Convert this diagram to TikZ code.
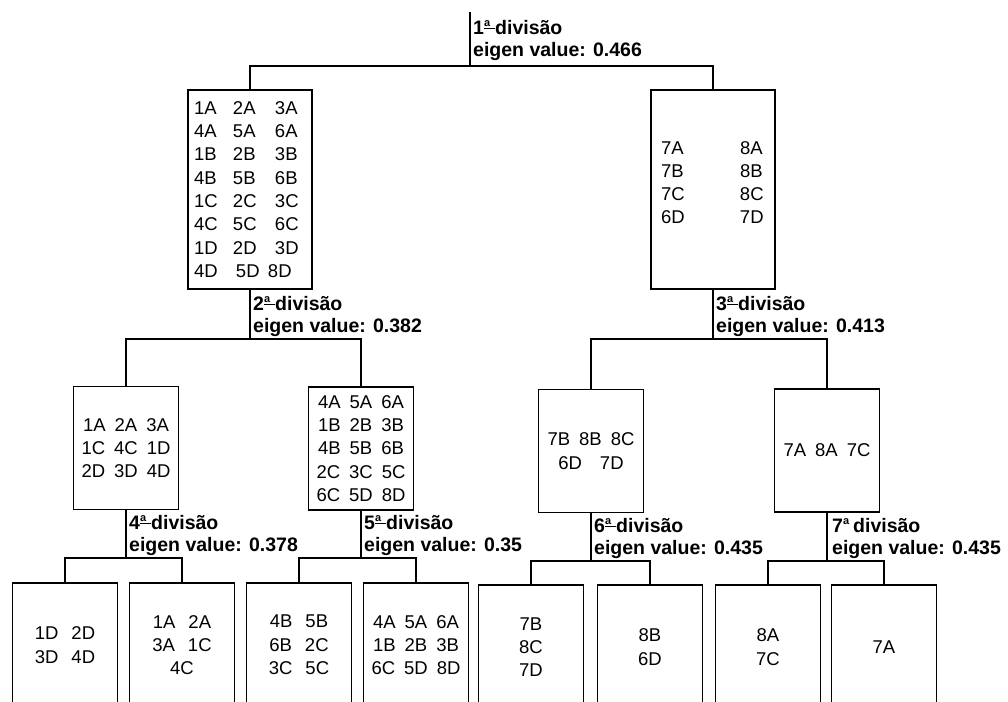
\documentclass[tikz,border=0pt]{standalone}
\usepackage{fontspec}
\setmainfont{Liberation Sans}
\usepackage{tikz}
\usetikzlibrary{positioning}

\newcommand{\ordlbl}[1]{#1\raisebox{0.42em}{\fontsize{11}{11}\selectfont\underline{a\hspace{5pt}}}divisão}
\newcommand{\ordplain}[1]{#1\raisebox{0.42em}{\fontsize{11}{11}\selectfont a}\hspace{4pt}divisão}
\newcommand{\trio}[3]{\makebox[39pt][l]{#1}\makebox[42pt][l]{#2}#3}
\newcommand{\duo}[2]{\makebox[79pt][l]{#1}#2}

\begin{document}
\begin{tikzpicture}[
    x=1pt, y=-1pt,
    grp/.style={draw, line width=1.5pt, inner sep=0pt, align=center,
                font=\fontsize{18.5}{23.3}\selectfont},
    bigbox/.style={grp, minimum width=124pt, minimum height=199pt},
    smallbox/.style={grp, minimum width=105pt, minimum height=123pt},
    leafbox/.style={grp, overlay, minimum width=105pt, minimum height=124pt},
    lbl/.style={font=\fontsize{19.5}{22}\selectfont\bfseries, align=left,
                inner sep=0pt},
    link/.style={line width=1.5pt},
]
\fill[white] (0,0) rectangle (1008,701);
\clip (0,0) rectangle (1008,701);

% first split
\coordinate (root) at (470,12);
\coordinate (j1) at (470,66);
\node[bigbox, align=left, text width=112pt] (t1) at (250,189.5)
    {\trio{1A}{2A}{3A}\\\trio{4A}{5A}{6A}\\\trio{1B}{2B}{3B}\\\trio{4B}{5B}{6B}\\
     \trio{1C}{2C}{3C}\\\trio{4C}{5C}{6C}\\\trio{1D}{2D}{3D}\\
     \makebox[42pt][l]{4D}\makebox[32pt][l]{5D}8D};
\node[bigbox, align=left, text width=104pt] (t2) at (713,189.5)
    {\duo{7A}{8A}\\\duo{7B}{8B}\\\duo{7C}{8C}\\\duo{6D}{7D}\\[-9.3pt]\mbox{}};
\node[lbl, above right=5pt and 3pt of j1] (d1) {\ordlbl{1}\\eigen value: 0.466};

\draw[link] (root) -- (j1);
\draw[link] (t1) |- (j1) -| (t2);

% second level
\coordinate (j2) at (250,339);
\coordinate (j3) at (713,339);
\node[smallbox] (ca) at (126,448)
    {1A\hspace{9pt}2A\hspace{9pt}3A\\1C\hspace{9pt}4C\hspace{9pt}1D\\2D\hspace{9pt}3D\hspace{9pt}4D};
\node[smallbox] (cb) at (361,448.5)
    {4A\hspace{9pt}5A\hspace{9pt}6A\\1B\hspace{9pt}2B\hspace{9pt}3B\\4B\hspace{9pt}5B\hspace{9pt}6B\\
     2C\hspace{9pt}3C\hspace{9pt}5C\\6C\hspace{9pt}5D\hspace{9pt}8D};
\node[smallbox] (cc) at (591,451)
    {7B\hspace{9pt}8B\hspace{9pt}8C\\6D\hspace{18pt}7D};
\node[smallbox] (cd) at (827,450.5) {7A\hspace{9pt}8A\hspace{9pt}7C};
\node[lbl, above right=2pt and 3pt of j2] (d2) {\ordlbl{2}\\eigen value: 0.382};
\node[lbl, above right=2pt and 3pt of j3] (d3) {\ordlbl{3}\\eigen value: 0.413};

\draw[link] (t1) -- (j2);
\draw[link] (t2) -- (j3);
\draw[link] (ca) |- (j2) -| (cb);
\draw[link] (cc) |- (j3) -| (cd);

% third level (cut off by the page edge)
\coordinate (j4) at (126,558);
\coordinate (j5) at (361,558);
\coordinate (j6) at (591,561);
\coordinate (j7) at (827,561);
\node[leafbox] (b1) at (65,645) {1D\hspace{13pt}2D\\3D\hspace{13pt}4D};
\node[leafbox] (b2) at (182,645) {1A\hspace{13pt}2A\\3A\hspace{13pt}1C\\4C};
\node[leafbox] (b3) at (299,645) {4B\hspace{13pt}5B\\6B\hspace{13pt}2C\\3C\hspace{13pt}5C};
\node[leafbox] (b4) at (416,645)
    {4A\hspace{9pt}5A\hspace{9pt}6A\\1B\hspace{9pt}2B\hspace{9pt}3B\\6C\hspace{9pt}5D\hspace{9pt}8D};
\node[leafbox] (b5) at (531,647) {7B\\8C\\7D};
\node[leafbox] (b6) at (650,647) {8B\\6D};
\node[leafbox] (b7) at (768,647) {8A\\7C};
\node[leafbox] (b8) at (884,647) {7A};
\node[lbl, above right=2pt and 3pt of j4] (d4) {\ordlbl{4}\\eigen value: 0.378};
\node[lbl, above right=2pt and 3pt of j5] (d5) {\ordlbl{5}\\eigen value: 0.35};
\node[lbl, above right=2pt and 3pt of j6] (d6) {\ordlbl{6}\\eigen value: 0.435};
\node[lbl, above right=2pt and 5pt of j7] (d7) {\ordplain{7}\\eigen value: 0.435};

\draw[link] (ca) -- (j4);
\draw[link] (cb) -- (j5);
\draw[link] (cc) -- (j6);
\draw[link] (cd) -- (j7);
\draw[link] (b1) |- (j4) -| (b2);
\draw[link] (b3) |- (j5) -| (b4);
\draw[link] (b5) |- (j6) -| (b6);
\draw[link] (b7) |- (j7) -| (b8);
\end{tikzpicture}
\end{document}
